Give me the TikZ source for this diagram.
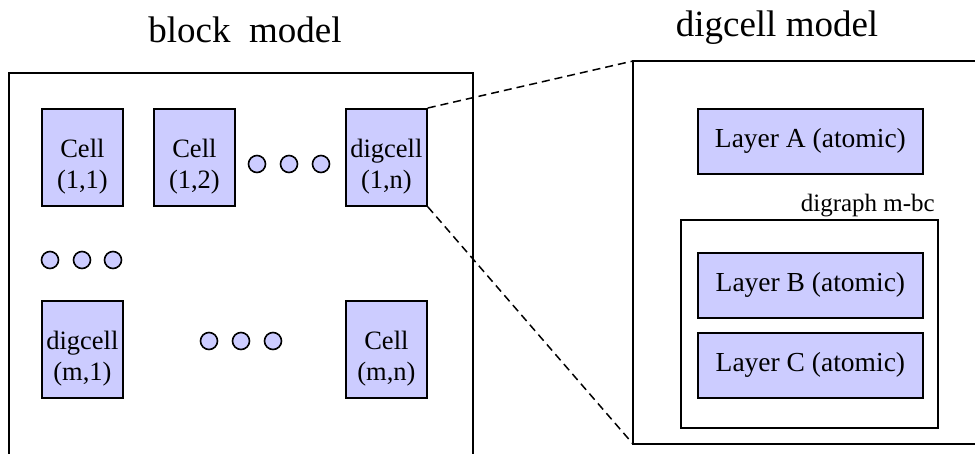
\documentclass[tikz,border=0pt]{standalone}
\usepackage{fontspec}
\setmainfont{Liberation Serif}
\definecolor{cellfill}{HTML}{CCCCFF}
\tikzset{
  frame/.style={line width=1.8pt, draw=black},
  cellbox/.style={draw=black, line width=1.8pt, fill=cellfill, minimum width=81pt, minimum height=97pt,
    inner sep=0pt, anchor=north west},
  celltext/.style={inner sep=0pt, align=center, font=\fontsize{26.5}{30.5}\selectfont},
  layerbox/.style={draw=black, line width=1.8pt, fill=cellfill, minimum width=225pt, minimum height=65pt,
    inner sep=0pt, font=\fontsize{27.5}{30}\selectfont, anchor=north west},
  dot/.style={circle, draw=black, line width=1.6pt, fill=cellfill, minimum size=17pt, inner sep=0pt},
  zoomline/.style={line width=1.5pt, dash pattern=on 8pt off 5pt},
  title/.style={font=\fontsize{37}{40}\selectfont, anchor=base},
}
% a cell box with its two-line caption, set a little below the centre
\newcommand\cellnode[3]{%
  \node[cellbox] (#1) at (#2) {};
  \node[celltext] (#1-txt) at ([yshift=-9pt]#1.center) {#3};
}
\begin{document}
\begin{tikzpicture}[x=1pt, y=-1pt]
\useasboundingbox (0,0) rectangle (975,453);

% titles
\node[title] (t1) at (245,42) {block\ \ model};
\node[title] (t2) at (777,36) {digcell model};

% block model frame (open at the bottom edge of the page)
\draw[frame] (9,470) -- (9,73) -- (473,73) -- (473,470);

% cells of the block model
\cellnode{c11}{41,108}{Cell\\(1,1)}
\cellnode{c12}{153,108}{Cell\\(1,2)}
\cellnode{c1n}{345,108}{digcell\\(1,n)}
\cellnode{cm1}{41,300}{digcell\\(m,1)}
\cellnode{cmn}{345,300}{Cell\\(m,n)}

% ellipsis dots
\foreach \x [count=\i] in {257,289,321} \node[dot] (da\i) at (\x,164) {};
\foreach \x [count=\i] in {50,82,113} \node[dot] (db\i) at (\x,260) {};
\foreach \x [count=\i] in {209,241,273} \node[dot] (dc\i) at (\x,341) {};

% digcell model frame (open on the right edge of the page)
\coordinate (rtl) at (633,61);
\coordinate (rbl) at (633,444);
\draw[frame] (990,61) -- (rtl) -- (rbl) -- (990,444);

% layers
\node[layerbox] (la) at (697,108) {Layer A (atomic)};
\draw[frame] (681,220) rectangle (938,428);
\node[font=\fontsize{25}{28}\selectfont, anchor=base east, inner sep=0pt] (dg) at (935,211) {digraph m-bc};
\node[layerbox] (lb) at (697,252) {Layer B (atomic)};
\node[layerbox] (lc) at (697,332) {Layer C (atomic)};

% zoom lines
\draw[zoomline] (c1n.north east) -- (rtl);
\draw[zoomline] (c1n.south east) -- (rbl);
\end{tikzpicture}
\end{document}
